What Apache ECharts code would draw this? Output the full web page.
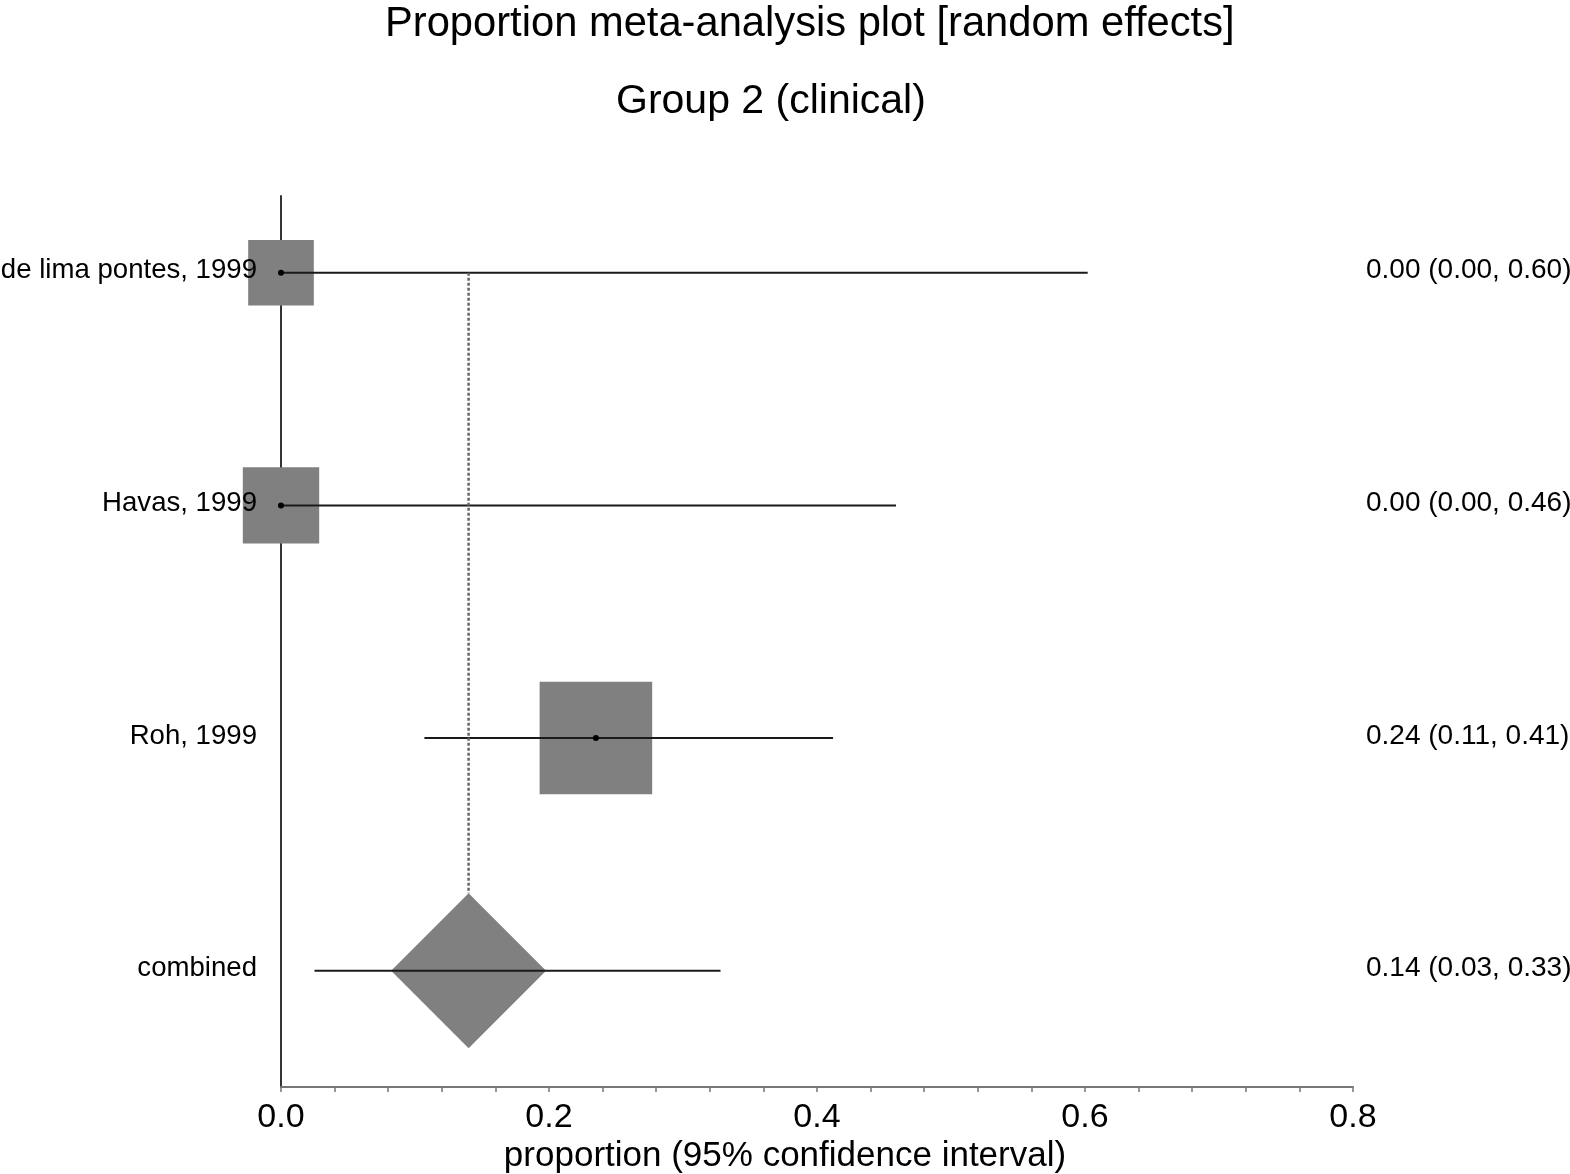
<!DOCTYPE html>
<html>
<head>
<meta charset="utf-8">
<script src="https://cdn.jsdelivr.net/npm/echarts@6/dist/echarts.min.js"></script>
<style>
html,body{margin:0;padding:0;background:#fff;}
#chart{width:1570px;height:1174px;}
</style>
</head>
<body>
<div id="chart"></div>
<script>
var studies = ['de lima pontes, 1999', 'Havas, 1999', 'Roh, 1999', 'combined'];
var estimates = [0.0, 0.0, 0.235, 0.140];
var lowerCI = [0.0, 0.0, 0.107, 0.025];
var upperCI = [0.602, 0.459, 0.412, 0.328];
var boxSizes = [0.049, 0.057, 0.084, 0.1156];
var ciLabels = ['0.00 (0.00, 0.60)', '0.00 (0.00, 0.46)', '0.24 (0.11, 0.41)', '0.14 (0.03, 0.33)'];
var xTicks = [0, 0.2, 0.4, 0.6, 0.8];

var FONT = 'Liberation Sans, Arial, sans-serif';
var combinedIndex = studies.length - 1;

var rows = studies.map(function (s, i) {
  return [estimates[i], lowerCI[i], upperCI[i], i, boxSizes[i]];
});

function renderItem(params, api) {
  var est = api.value(0), lo = api.value(1), hi = api.value(2), idx = api.value(3), bs = api.value(4);
  var c = api.coord([est, idx]);
  var pLo = api.coord([lo, idx]);
  var pHi = api.coord([hi, idx]);
  var w = api.size([bs, 0])[0];
  var children = [];
  var isCombined = idx === combinedIndex;
  if (isCombined) {
    var h = w / 2;
    var top0 = api.coord([est, 0]);
    children.push({
      type: 'line',
      shape: {x1: c[0], y1: top0[1], x2: c[0], y2: c[1] - h},
      style: {stroke: '#666', lineWidth: 2.5, lineDash: [3, 2]}
    });
    children.push({
      type: 'polygon',
      shape: {points: [[c[0], c[1] - h], [c[0] + h, c[1]], [c[0], c[1] + h], [c[0] - h, c[1]]]},
      style: {fill: '#808080'}
    });
  } else {
    children.push({
      type: 'rect',
      shape: {x: c[0] - w / 2, y: c[1] - w / 2, width: w, height: w},
      style: {fill: '#808080'}
    });
  }
  children.push({
    type: 'line',
    shape: {x1: pLo[0], y1: pLo[1], x2: pHi[0], y2: pHi[1]},
    style: {stroke: '#1a1a1a', lineWidth: 2}
  });
  if (!isCombined) {
    children.push({
      type: 'circle',
      shape: {cx: c[0], cy: c[1], r: 3},
      style: {fill: '#000'}
    });
  }
  var left = api.coord([0, idx]);
  var right = api.coord([0.8, idx]);
  children.push({
    type: 'text',
    style: {text: studies[idx], x: left[0] - 24, y: c[1] - 2, align: 'right', verticalAlign: 'middle',
      font: '27.6px ' + FONT, fill: '#000'}
  });
  children.push({
    type: 'text',
    style: {text: ciLabels[idx], x: right[0] + 13, y: c[1] - 2, align: 'left', verticalAlign: 'middle',
      font: '28px ' + FONT, fill: '#000'}
  });
  return {type: 'group', children: children};
}

var chart = echarts.init(document.getElementById('chart'), null, {renderer: 'canvas'});
chart.setOption({
  animation: false,
  backgroundColor: '#fff',
  title: [
    {text: 'Proportion meta-analysis plot [random effects]', left: 380, top: -1,
      textStyle: {fontFamily: FONT, fontSize: 41.7, fontWeight: 'normal', color: '#000'}},
    {text: 'Group 2 (clinical)', left: 611, top: 76,
      textStyle: {fontFamily: FONT, fontSize: 41, fontWeight: 'normal', color: '#000'}}
  ],
  graphic: [
    {type: 'text', left: 'center', top: 1139,
      style: {text: 'proportion (95% confidence interval)', font: '35px ' + FONT, fill: '#000'}}
  ],
  grid: {left: 281, right: 217, top: 196, bottom: 87, containLabel: false},
  xAxis: {
    type: 'value', min: xTicks[0], max: xTicks[xTicks.length - 1], interval: 0.2,
    axisLine: {show: true, onZero: false, lineStyle: {color: '#777', width: 2}},
    axisTick: {show: true, length: 5, lineStyle: {color: '#777', width: 1.5}},
    minorTick: {show: true, splitNumber: 5, length: 5, lineStyle: {color: '#777', width: 1.5}},
    splitLine: {show: false},
    minorSplitLine: {show: false},
    axisLabel: {fontFamily: FONT, fontSize: 34, color: '#000', margin: 14,
      formatter: function (v) { return v.toFixed(1); }}
  },
  yAxis: {
    type: 'value', inverse: true, min: -0.33, max: 3.5,
    axisLine: {show: true, onZero: false, lineStyle: {color: '#333', width: 2}},
    axisTick: {show: false},
    axisLabel: {show: false},
    splitLine: {show: false}
  },
  series: [{
    type: 'custom',
    renderItem: renderItem,
    data: rows,
    clip: false,
    encode: {x: [0, 1, 2], y: 3}
  }]
});
</script>
</body>
</html>
